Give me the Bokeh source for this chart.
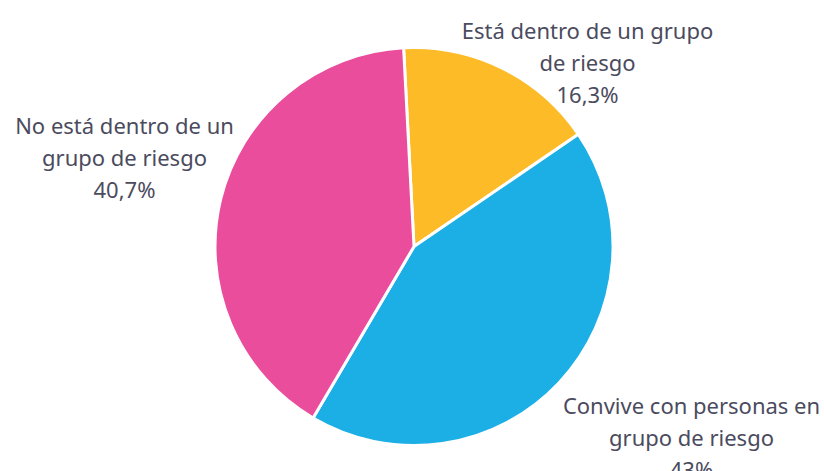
import math
from bokeh.plotting import figure
from bokeh.models import Range1d
from bokeh.core.properties import value
from bokeh.embed import file_html
from bokeh.resources import INLINE

categories = ["Está dentro de un grupo de riesgo",
              "Convive con personas en grupo de riesgo",
              "No está dentro de un grupo de riesgo"]
values = [16.3, 43.0, 40.7]
value_labels = ["16,3%", "43%", "40,7%"]
label_lines = [["Está dentro de un grupo", "de riesgo"],
               ["Convive con personas en", "grupo de riesgo"],
               ["No está dentro de un", "grupo de riesgo"]]
colors = ["#FCBB27", "#1CAFE5", "#EA4D9C"]

W, H = 824, 471
p = figure(width=W, height=H, output_backend="svg", toolbar_location=None,
           x_range=Range1d(0, W), y_range=Range1d(0, H), min_border=0)
p.axis.visible = False
p.grid.visible = False
p.outline_line_color = None
p.background_fill_color = "white"

cx, cy, r = 413.5, H - 246, 199
start_deg = 93.0
total = sum(values)
starts, ends = [], []
a = start_deg
for v in values:
    starts.append(math.radians(a))
    a -= v / total * 360.0
    ends.append(math.radians(a))

p.wedge(x=[cx] * 3, y=[cy] * 3, radius=r, start_angle=starts, end_angle=ends,
        direction="clock", fill_color=colors, line_color="white", line_width=3)

label_pos = [(587, 29), (691, 404), (124, 124)]
line_gap = 32
xs, ys, ts = [], [], []
for (lx, ly), lines, vl in zip(label_pos, label_lines, value_labels):
    for i, t in enumerate(lines + [vl]):
        xs.append(lx)
        ys.append(H - (ly + i * line_gap))
        ts.append(t)
p.text(x=xs, y=ys, text=ts, text_font=value("Noto Sans"), text_font_size="22px",
       text_color="#4B4B5E", text_align="center", text_baseline="middle")

open("out.html", "w").write(file_html(p, INLINE))
